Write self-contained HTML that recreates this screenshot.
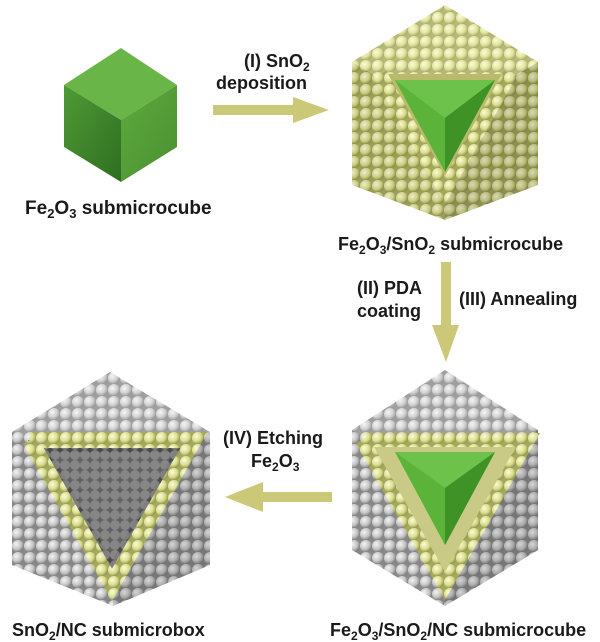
<!DOCTYPE html>
<html><head><meta charset="utf-8"><style>
html,body{margin:0;padding:0;background:#fff;}
svg{display:block}
text{font-family:"Liberation Sans",Arial,sans-serif;font-weight:bold;fill:#1a1a1a}
</style></head><body>
<svg width="600" height="642" viewBox="0 0 600 642" xmlns="http://www.w3.org/2000/svg">
<defs>
<radialGradient id="gy" cx="0.35" cy="0.35" r="0.7"><stop offset="0" stop-color="#fbfcd8"/><stop offset="0.6" stop-color="#d9dc8c"/><stop offset="1" stop-color="#8e9148"/></radialGradient>
<radialGradient id="gg" cx="0.35" cy="0.35" r="0.7"><stop offset="0" stop-color="#f4f4f4"/><stop offset="0.6" stop-color="#c4c4c4"/><stop offset="1" stop-color="#7a7a7a"/></radialGradient>
<pattern id="py" width="12" height="12" patternUnits="userSpaceOnUse"><rect width="12" height="12" fill="#a4a760"/><circle cx="6" cy="6" r="6" fill="url(#gy)"/></pattern>
<pattern id="pg" width="12" height="12" patternUnits="userSpaceOnUse"><rect width="12" height="12" fill="#888"/><circle cx="6" cy="6" r="6" fill="url(#gg)"/></pattern>
<pattern id="pd" width="10" height="10" patternUnits="userSpaceOnUse"><rect width="10" height="10" fill="#4a4a4a"/><circle cx="5" cy="5" r="5" fill="#7f7f7f"/></pattern>
<linearGradient id="gl" x1="0" y1="0" x2="1" y2="1"><stop offset="0" stop-color="#4f9a35"/><stop offset="1" stop-color="#2f6e22"/></linearGradient>
<linearGradient id="gr" x1="0" y1="0" x2="1" y2="1"><stop offset="0" stop-color="#5eaa3e"/><stop offset="1" stop-color="#4a9030"/></linearGradient>
</defs>

<!-- Green cube -->
<polygon points="121,48 177,85 121,120 64,85" fill="#6ab548"/>
<polygon points="64,85 121,120 121,182 64,147" fill="url(#gl)"/>
<polygon points="121,120 177,85 177,147 121,182" fill="url(#gr)"/>
<text x="25" y="214" font-size="19">Fe<tspan font-size="13" dy="4">2</tspan><tspan dy="-4">O</tspan><tspan font-size="13" dy="4">3</tspan><tspan dy="-4"> submicrocube</tspan></text>

<!-- Arrow I -->
<polygon points="213,105 293,105 293,97 329,110 293,123 293,115 213,115" fill="#cbc877"/>
<text x="244" y="67" font-size="18">(I) SnO<tspan font-size="12" dy="4">2</tspan></text>
<text x="216" y="89" font-size="18">deposition</text>

<!-- Top-right cube -->
<g>
<polygon points="445,5 538,62 538,185 445,220 352,185 352,62" fill="url(#py)"/>
<polygon points="445,5 538,62 445,119 352,62" fill="#ffffe0" opacity="0.2"/>
<polygon points="352,62 445,119 445,220 352,185" fill="#000" opacity="0.06"/>
<polygon points="445,119 538,62 538,185 445,220" fill="#000" opacity="0.14"/>
<polygon points="380,74 510,74 445,190" fill="#b8bb6c"/>
<polyline points="380,74 445,190 510,74" fill="none" stroke="url(#py)" stroke-width="14"/>
<polygon points="395,80 495,80 445,172" fill="#5bb33a"/>
<polygon points="395,80 495,80 445,118" fill="#6cc24a"/>
<polygon points="445,118 495,80 445,172" fill="#3e9226"/>
</g>
<text x="338" y="250" font-size="18">Fe<tspan font-size="12" dy="4">2</tspan><tspan dy="-4">O</tspan><tspan font-size="12" dy="4">3</tspan><tspan dy="-4">/SnO</tspan><tspan font-size="12" dy="4">2</tspan><tspan dy="-4"> submicrocube</tspan></text>

<!-- Down arrow -->
<polygon points="441,262 451,262 451,325 459,325 446,362 432,325 441,325" fill="#cbc877"/>
<text x="357" y="294" font-size="18">(II) PDA</text>
<text x="357" y="317" font-size="18">coating</text>
<text x="459" y="305" font-size="18">(III) Annealing</text>

<!-- Bottom-right cube -->
<g>
<polygon points="445,370 538,430 538,550 445,606 352,550 352,430" fill="url(#pg)"/>
<polygon points="445,370 538,430 445,490 352,430" fill="#fff" opacity="0.2"/>
<polygon points="445,490 538,430 538,550 445,606" fill="#000" opacity="0.12"/>
<polygon points="365,440 525,440 445,585" fill="#c8ca86"/>
<polyline points="362,440 528,440 445,586 362,440" fill="none" stroke="url(#py)" stroke-width="14"/>
<polygon points="395,452 495,452 445,545" fill="#5bb33a"/>
<polygon points="395,452 495,452 445,488" fill="#6cc24a"/>
<polygon points="445,488 495,452 445,545" fill="#3e9226"/>
</g>
<text x="330" y="636" font-size="18">Fe<tspan font-size="12" dy="4">2</tspan><tspan dy="-4">O</tspan><tspan font-size="12" dy="4">3</tspan><tspan dy="-4">/SnO</tspan><tspan font-size="12" dy="4">2</tspan><tspan dy="-4">/NC submicrocube</tspan></text>

<!-- Left arrow -->
<polygon points="332,492 263,492 263,482 225,497 263,512 263,502 332,502" fill="#cbc877"/>
<text x="223" y="444" font-size="18">(IV) Etching</text>
<text x="251" y="467" font-size="18">Fe<tspan font-size="12" dy="4">2</tspan><tspan dy="-4">O</tspan><tspan font-size="12" dy="4">3</tspan></text>

<!-- Bottom-left box -->
<g>
<polygon points="110,372 210,432 210,565 113,606 12,565 12,432" fill="url(#pg)"/>
<polygon points="110,372 210,432 111,490 12,432" fill="#fff" opacity="0.2"/>
<polygon points="111,490 210,432 210,565 113,606" fill="#000" opacity="0.12"/>
<polygon points="28,440 196,440 112,588" fill="url(#pd)"/>
<polygon points="50,452 174,452 112,560" fill="#999" opacity="0.3"/>
<polyline points="30,440 194,440 112,585 30,440" fill="none" stroke="url(#py)" stroke-width="16"/>
</g>
<text x="12" y="636" font-size="18">SnO<tspan font-size="12" dy="4">2</tspan><tspan dy="-4">/NC submicrobox</tspan></text>
</svg>
</body></html>
